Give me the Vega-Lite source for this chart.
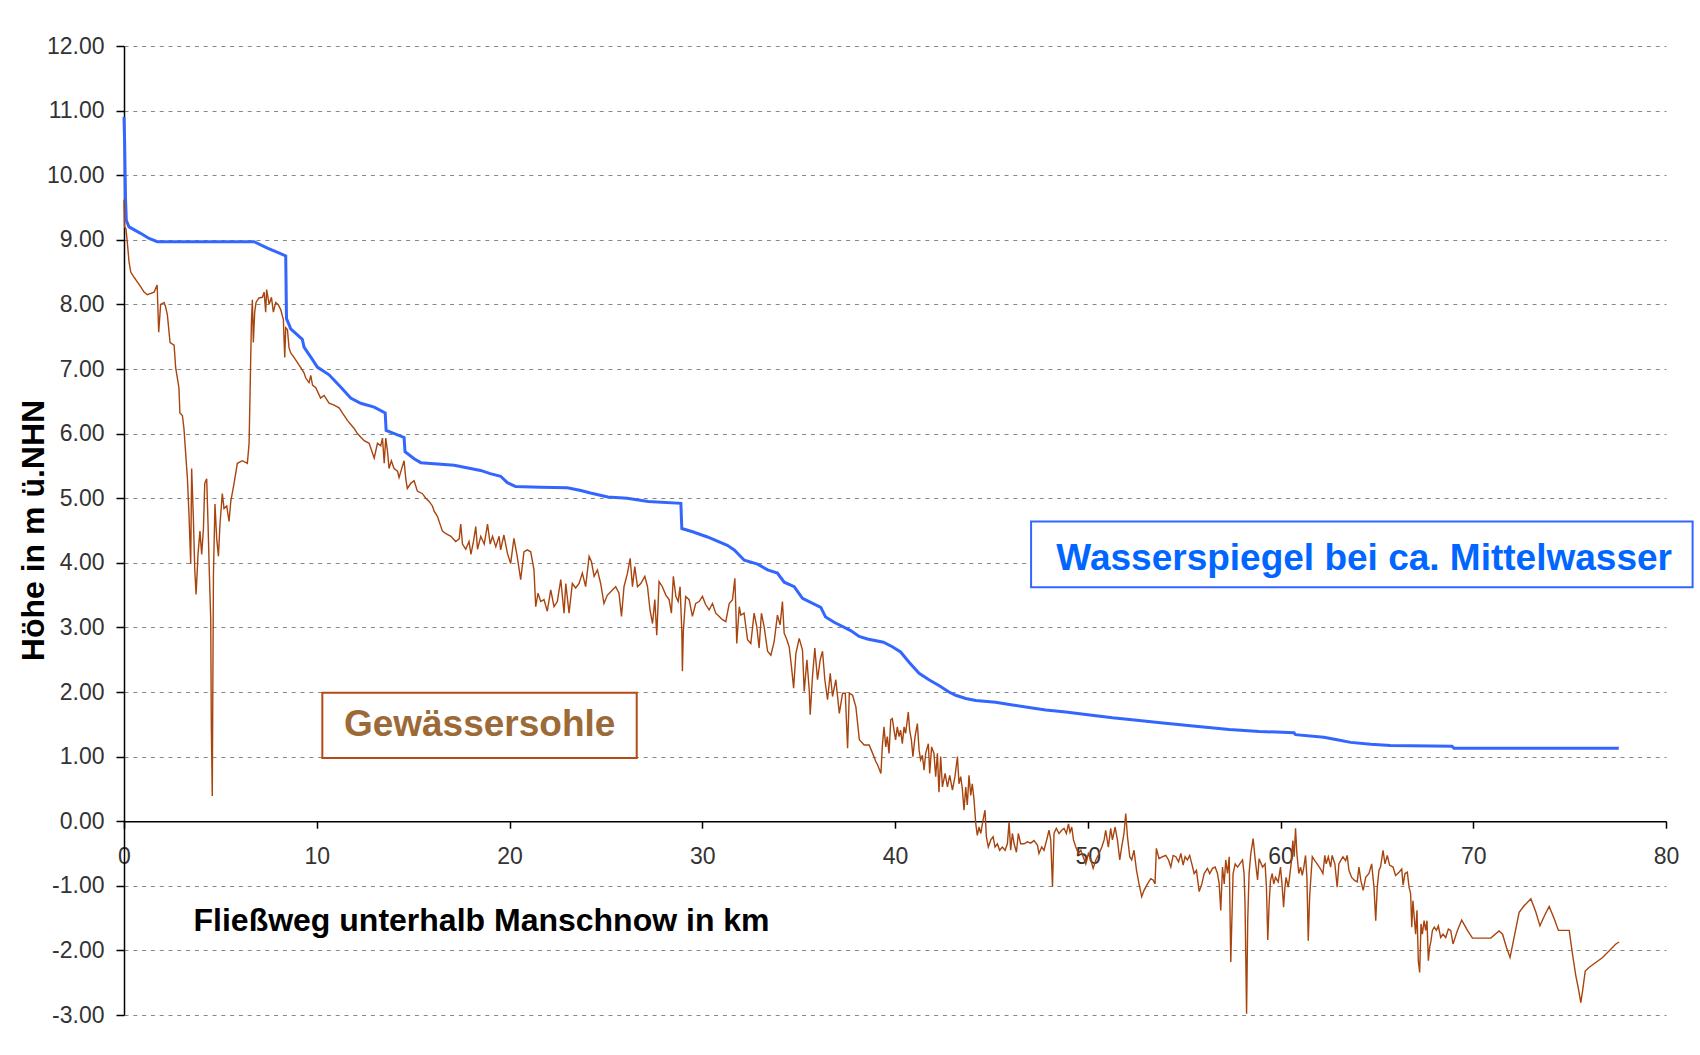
{
  "$schema": "https://vega.github.io/schema/vega-lite/v6.json",
  "width": 1542,
  "height": 969,
  "autosize": {"type": "none"},
  "padding": {"left": 124, "top": 46, "right": 34, "bottom": 40},
  "background": "white",
  "config": {
    "view": {"stroke": null},
    "font": "Liberation Sans",
    "axis": {"labelFont": "Liberation Sans", "titleFont": "Liberation Sans"}
  },
  "datasets": {
    "wasser": [
      {"km":0,"h":10.9},{"km":0.03,"h":10.55},{"km":0.08,"h":9.62},{"km":0.12,"h":9.3},{"km":0.26,"h":9.2},{"km":0.86,"h":9.1},{"km":1.3,"h":9.02},{"km":1.73,"h":8.97},{"km":6.75,"h":8.97},{"km":7.44,"h":8.87},{"km":8.0,"h":8.8},{"km":8.39,"h":8.75},{"km":8.43,"h":7.78},{"km":8.6,"h":7.66},{"km":8.65,"h":7.62},{"km":9.25,"h":7.46},{"km":9.34,"h":7.34},{"km":9.77,"h":7.15},{"km":10.03,"h":7.03},{"km":10.64,"h":6.91},{"km":11.24,"h":6.72},{"km":11.76,"h":6.55},{"km":12.28,"h":6.47},{"km":12.98,"h":6.41},{"km":13.55,"h":6.32},{"km":13.6,"h":6.05},{"km":14.53,"h":5.94},{"km":14.58,"h":5.72},{"km":15.05,"h":5.61},{"km":15.4,"h":5.55},{"km":17.13,"h":5.51},{"km":17.65,"h":5.48},{"km":18.5,"h":5.43},{"km":19.0,"h":5.38},{"km":19.54,"h":5.34},{"km":19.89,"h":5.24},{"km":20.32,"h":5.18},{"km":21.6,"h":5.17},{"km":23.0,"h":5.16},{"km":23.7,"h":5.12},{"km":24.2,"h":5.08},{"km":25.1,"h":5.02},{"km":26.1,"h":5.0},{"km":27.2,"h":4.95},{"km":28.89,"h":4.92},{"km":28.94,"h":4.53},{"km":29.5,"h":4.48},{"km":30.27,"h":4.4},{"km":31.3,"h":4.27},{"km":31.66,"h":4.2},{"km":32.18,"h":4.04},{"km":32.87,"h":3.98},{"km":33.39,"h":3.89},{"km":33.9,"h":3.84},{"km":34.25,"h":3.7},{"km":34.77,"h":3.63},{"km":35.2,"h":3.45},{"km":36.15,"h":3.31},{"km":36.4,"h":3.16},{"km":36.84,"h":3.08},{"km":37.7,"h":2.95},{"km":38.14,"h":2.86},{"km":38.57,"h":2.82},{"km":39.4,"h":2.77},{"km":39.86,"h":2.7},{"km":40.29,"h":2.62},{"km":40.73,"h":2.46},{"km":41.25,"h":2.29},{"km":41.76,"h":2.19},{"km":42.28,"h":2.1},{"km":42.8,"h":2.0},{"km":43.15,"h":1.95},{"km":43.67,"h":1.9},{"km":44.19,"h":1.87},{"km":45.22,"h":1.84},{"km":46.09,"h":1.8},{"km":46.95,"h":1.76},{"km":47.82,"h":1.72},{"km":48.86,"h":1.69},{"km":49.9,"h":1.65},{"km":51.28,"h":1.6},{"km":52.3,"h":1.57},{"km":53.9,"h":1.52},{"km":55.6,"h":1.47},{"km":57.34,"h":1.42},{"km":58.9,"h":1.39},{"km":60.7,"h":1.37},{"km":60.78,"h":1.34},{"km":62.25,"h":1.3},{"km":62.94,"h":1.26},{"km":63.64,"h":1.22},{"km":64.68,"h":1.19},{"km":65.7,"h":1.17},{"km":68.9,"h":1.16},{"km":69.0,"h":1.13},{"km":77.55,"h":1.13}
    ],
    "sohle": [
      {"km":0.0,"h":9.62},{"km":0.03,"h":9.2},{"km":0.1,"h":9.17},{"km":0.17,"h":8.97},{"km":0.26,"h":8.66},{"km":0.35,"h":8.5},{"km":0.52,"h":8.42},{"km":0.69,"h":8.35},{"km":0.87,"h":8.27},{"km":1.04,"h":8.19},{"km":1.21,"h":8.15},{"km":1.56,"h":8.19},{"km":1.72,"h":8.3},{"km":1.8,"h":7.57},{"km":1.9,"h":8.0},{"km":2.08,"h":8.03},{"km":2.16,"h":7.96},{"km":2.25,"h":7.84},{"km":2.39,"h":7.41},{"km":2.6,"h":7.37},{"km":2.68,"h":7.02},{"km":2.85,"h":6.71},{"km":2.9,"h":6.32},{"km":3.03,"h":6.28},{"km":3.11,"h":6.08},{"km":3.2,"h":5.69},{"km":3.29,"h":5.3},{"km":3.37,"h":4.76},{"km":3.46,"h":3.98},{"km":3.51,"h":5.46},{"km":3.6,"h":4.68},{"km":3.67,"h":3.9},{"km":3.74,"h":3.51},{"km":3.84,"h":4.13},{"km":3.94,"h":4.49},{"km":4.03,"h":4.13},{"km":4.12,"h":4.52},{"km":4.19,"h":5.23},{"km":4.29,"h":5.3},{"km":4.36,"h":4.6},{"km":4.43,"h":3.82},{"km":4.5,"h":3.12},{"km":4.53,"h":1.48},{"km":4.58,"h":0.39},{"km":4.64,"h":3.82},{"km":4.72,"h":4.91},{"km":4.81,"h":4.37},{"km":4.9,"h":4.1},{"km":4.98,"h":4.6},{"km":5.1,"h":5.07},{"km":5.19,"h":4.84},{"km":5.33,"h":4.88},{"km":5.45,"h":4.64},{"km":5.54,"h":4.95},{"km":5.71,"h":5.23},{"km":5.88,"h":5.54},{"km":6.14,"h":5.58},{"km":6.4,"h":5.54},{"km":6.49,"h":5.85},{"km":6.54,"h":6.63},{"km":6.61,"h":7.72},{"km":6.66,"h":8.07},{"km":6.71,"h":7.41},{"km":6.78,"h":7.88},{"km":6.85,"h":8.03},{"km":7.0,"h":8.1},{"km":7.18,"h":8.11},{"km":7.27,"h":8.19},{"km":7.35,"h":7.88},{"km":7.4,"h":8.23},{"km":7.53,"h":8.0},{"km":7.65,"h":8.11},{"km":7.75,"h":7.88},{"km":7.87,"h":8.03},{"km":7.99,"h":8.0},{"km":8.13,"h":7.92},{"km":8.27,"h":7.76},{"km":8.3,"h":7.49},{"km":8.34,"h":7.18},{"km":8.39,"h":7.64},{"km":8.48,"h":7.61},{"km":8.56,"h":7.33},{"km":8.65,"h":7.25},{"km":8.82,"h":7.18},{"km":9.0,"h":7.1},{"km":9.17,"h":7.02},{"km":9.34,"h":6.94},{"km":9.43,"h":6.86},{"km":9.6,"h":6.79},{"km":9.69,"h":6.9},{"km":9.78,"h":6.75},{"km":9.95,"h":6.71},{"km":10.2,"h":6.55},{"km":10.38,"h":6.59},{"km":10.64,"h":6.47},{"km":10.9,"h":6.44},{"km":11.16,"h":6.4},{"km":11.33,"h":6.32},{"km":11.6,"h":6.2},{"km":11.94,"h":6.08},{"km":12.11,"h":6.0},{"km":12.46,"h":5.89},{"km":12.72,"h":5.85},{"km":12.98,"h":5.62},{"km":13.15,"h":5.85},{"km":13.32,"h":5.81},{"km":13.41,"h":5.93},{"km":13.5,"h":5.54},{"km":13.58,"h":5.93},{"km":13.67,"h":5.73},{"km":13.75,"h":5.46},{"km":13.87,"h":5.58},{"km":14.01,"h":5.46},{"km":14.19,"h":5.42},{"km":14.27,"h":5.32},{"km":14.45,"h":5.5},{"km":14.53,"h":5.58},{"km":14.62,"h":5.3},{"km":14.7,"h":5.15},{"km":14.88,"h":5.23},{"km":15.05,"h":5.27},{"km":15.22,"h":5.11},{"km":15.48,"h":5.07},{"km":15.66,"h":5.0},{"km":15.83,"h":4.95},{"km":16.0,"h":4.88},{"km":16.09,"h":4.8},{"km":16.26,"h":4.72},{"km":16.44,"h":4.56},{"km":16.52,"h":4.49},{"km":16.7,"h":4.45},{"km":16.96,"h":4.41},{"km":17.21,"h":4.33},{"km":17.39,"h":4.37},{"km":17.47,"h":4.6},{"km":17.56,"h":4.29},{"km":17.73,"h":4.21},{"km":17.9,"h":4.33},{"km":18.0,"h":4.13},{"km":18.13,"h":4.33},{"km":18.25,"h":4.56},{"km":18.34,"h":4.21},{"km":18.51,"h":4.41},{"km":18.69,"h":4.29},{"km":18.86,"h":4.6},{"km":19.0,"h":4.29},{"km":19.12,"h":4.41},{"km":19.29,"h":4.25},{"km":19.46,"h":4.41},{"km":19.54,"h":4.2},{"km":19.71,"h":4.43},{"km":19.89,"h":4.15},{"km":20.06,"h":3.99},{"km":20.23,"h":4.38},{"km":20.4,"h":4.1},{"km":20.58,"h":3.74},{"km":20.75,"h":4.17},{"km":20.92,"h":4.2},{"km":21.1,"h":4.17},{"km":21.27,"h":3.89},{"km":21.36,"h":3.32},{"km":21.48,"h":3.53},{"km":21.62,"h":3.4},{"km":21.79,"h":3.43},{"km":21.96,"h":3.25},{"km":22.14,"h":3.58},{"km":22.31,"h":3.32},{"km":22.48,"h":3.4},{"km":22.66,"h":3.74},{"km":22.83,"h":3.22},{"km":22.92,"h":3.68},{"km":23.09,"h":3.22},{"km":23.26,"h":3.68},{"km":23.43,"h":3.61},{"km":23.61,"h":3.68},{"km":23.78,"h":3.84},{"km":23.95,"h":3.63},{"km":24.13,"h":4.1},{"km":24.25,"h":4.02},{"km":24.39,"h":3.79},{"km":24.56,"h":3.89},{"km":24.73,"h":3.68},{"km":24.9,"h":3.37},{"km":25.08,"h":3.5},{"km":25.34,"h":3.58},{"km":25.51,"h":3.63},{"km":25.68,"h":3.53},{"km":25.81,"h":3.17},{"km":25.94,"h":3.63},{"km":26.12,"h":3.84},{"km":26.26,"h":4.07},{"km":26.38,"h":3.63},{"km":26.5,"h":3.94},{"km":26.64,"h":3.63},{"km":26.81,"h":3.68},{"km":27.02,"h":3.79},{"km":27.16,"h":3.63},{"km":27.29,"h":3.27},{"km":27.42,"h":3.06},{"km":27.54,"h":3.43},{"km":27.64,"h":2.88},{"km":27.76,"h":3.71},{"km":27.93,"h":3.63},{"km":28.11,"h":3.5},{"km":28.28,"h":3.43},{"km":28.4,"h":3.22},{"km":28.5,"h":3.79},{"km":28.63,"h":3.48},{"km":28.75,"h":3.4},{"km":28.85,"h":3.63},{"km":28.94,"h":2.94},{"km":28.97,"h":2.32},{"km":29.02,"h":2.94},{"km":29.14,"h":3.48},{"km":29.32,"h":3.43},{"km":29.49,"h":3.17},{"km":29.66,"h":3.37},{"km":29.84,"h":3.4},{"km":30.01,"h":3.48},{"km":30.18,"h":3.35},{"km":30.36,"h":3.27},{"km":30.53,"h":3.37},{"km":30.7,"h":3.22},{"km":30.88,"h":3.17},{"km":31.05,"h":3.12},{"km":31.22,"h":3.09},{"km":31.4,"h":3.37},{"km":31.57,"h":3.43},{"km":31.69,"h":3.76},{"km":31.74,"h":3.32},{"km":31.79,"h":2.75},{"km":31.92,"h":3.32},{"km":32.0,"h":3.19},{"km":32.17,"h":3.22},{"km":32.35,"h":2.81},{"km":32.52,"h":2.75},{"km":32.69,"h":3.22},{"km":32.83,"h":3.01},{"km":32.95,"h":2.68},{"km":33.07,"h":3.22},{"km":33.21,"h":3.01},{"km":33.39,"h":2.63},{"km":33.56,"h":2.57},{"km":33.73,"h":2.78},{"km":33.9,"h":3.19},{"km":34.04,"h":3.04},{"km":34.16,"h":3.4},{"km":34.25,"h":2.91},{"km":34.39,"h":2.81},{"km":34.51,"h":2.7},{"km":34.63,"h":2.39},{"km":34.74,"h":2.06},{"km":34.86,"h":2.6},{"km":35.03,"h":2.83},{"km":35.2,"h":2.65},{"km":35.29,"h":2.01},{"km":35.43,"h":2.5},{"km":35.55,"h":2.03},{"km":35.6,"h":1.65},{"km":35.72,"h":2.24},{"km":35.84,"h":2.68},{"km":35.98,"h":2.19},{"km":36.12,"h":2.5},{"km":36.24,"h":2.63},{"km":36.36,"h":2.19},{"km":36.5,"h":1.88},{"km":36.64,"h":2.29},{"km":36.76,"h":1.93},{"km":36.93,"h":2.19},{"km":37.11,"h":1.67},{"km":37.28,"h":1.98},{"km":37.42,"h":1.98},{"km":37.54,"h":1.13},{"km":37.63,"h":1.98},{"km":37.8,"h":1.95},{"km":37.97,"h":1.77},{"km":38.15,"h":1.26},{"km":38.4,"h":1.18},{"km":38.66,"h":1.18},{"km":38.84,"h":1.05},{"km":39.01,"h":0.92},{"km":39.1,"h":0.87},{"km":39.27,"h":0.74},{"km":39.34,"h":1.15},{"km":39.43,"h":1.46},{"km":39.52,"h":1.15},{"km":39.6,"h":1.31},{"km":39.69,"h":1.05},{"km":39.78,"h":1.57},{"km":39.86,"h":1.59},{"km":39.95,"h":1.41},{"km":40.03,"h":1.26},{"km":40.12,"h":1.46},{"km":40.21,"h":1.31},{"km":40.29,"h":1.41},{"km":40.38,"h":1.2},{"km":40.47,"h":1.46},{"km":40.55,"h":1.36},{"km":40.64,"h":1.57},{"km":40.69,"h":1.69},{"km":40.76,"h":1.41},{"km":40.85,"h":1.26},{"km":40.93,"h":1.0},{"km":41.04,"h":1.31},{"km":41.16,"h":1.51},{"km":41.25,"h":1.1},{"km":41.33,"h":0.95},{"km":41.42,"h":1.02},{"km":41.51,"h":0.79},{"km":41.59,"h":1.05},{"km":41.73,"h":1.2},{"km":41.8,"h":0.74},{"km":41.9,"h":1.15},{"km":42.02,"h":1.05},{"km":42.11,"h":0.69},{"km":42.2,"h":1.05},{"km":42.28,"h":0.45},{"km":42.37,"h":1.0},{"km":42.46,"h":0.53},{"km":42.6,"h":0.74},{"km":42.72,"h":0.53},{"km":42.84,"h":0.71},{"km":42.98,"h":0.48},{"km":43.11,"h":0.69},{"km":43.24,"h":1.0},{"km":43.32,"h":0.58},{"km":43.41,"h":0.69},{"km":43.49,"h":0.51},{"km":43.58,"h":0.17},{"km":43.67,"h":0.53},{"km":43.75,"h":0.25},{"km":43.84,"h":0.71},{"km":43.93,"h":0.4},{"km":44.01,"h":0.58},{"km":44.1,"h":0.33},{"km":44.19,"h":-0.04},{"km":44.27,"h":-0.22},{"km":44.36,"h":-0.09},{"km":44.45,"h":-0.19},{"km":44.57,"h":0.02},{"km":44.67,"h":0.17},{"km":44.74,"h":-0.24},{"km":44.84,"h":-0.4},{"km":44.97,"h":-0.29},{"km":45.09,"h":-0.24},{"km":45.19,"h":-0.4},{"km":45.31,"h":-0.35},{"km":45.43,"h":-0.45},{"km":45.57,"h":-0.4},{"km":45.71,"h":-0.45},{"km":45.83,"h":-0.35},{"km":45.92,"h":-0.01},{"km":46.0,"h":-0.45},{"km":46.09,"h":-0.19},{"km":46.18,"h":-0.35},{"km":46.3,"h":-0.48},{"km":46.4,"h":-0.19},{"km":46.52,"h":-0.35},{"km":46.7,"h":-0.35},{"km":46.87,"h":-0.32},{"km":47.04,"h":-0.34},{"km":47.21,"h":-0.3},{"km":47.39,"h":-0.37},{"km":47.47,"h":-0.5},{"km":47.61,"h":-0.4},{"km":47.73,"h":-0.45},{"km":47.91,"h":-0.24},{"km":47.99,"h":-0.14},{"km":48.08,"h":-0.29},{"km":48.17,"h":-1.02},{"km":48.25,"h":-0.19},{"km":48.37,"h":-0.11},{"km":48.51,"h":-0.19},{"km":48.65,"h":-0.14},{"km":48.77,"h":-0.11},{"km":48.89,"h":-0.19},{"km":49.0,"h":-0.04},{"km":49.08,"h":-0.17},{"km":49.17,"h":-0.09},{"km":49.26,"h":-0.29},{"km":49.38,"h":-0.4},{"km":49.52,"h":-0.5},{"km":49.64,"h":-0.45},{"km":49.76,"h":-0.55},{"km":49.9,"h":-0.66},{"km":50.03,"h":-0.5},{"km":50.16,"h":-0.6},{"km":50.28,"h":-0.73},{"km":50.42,"h":-0.6},{"km":50.59,"h":-0.5},{"km":50.73,"h":-0.4},{"km":50.85,"h":-0.29},{"km":50.93,"h":-0.14},{"km":51.07,"h":-0.4},{"km":51.19,"h":-0.11},{"km":51.28,"h":-0.29},{"km":51.42,"h":-0.09},{"km":51.54,"h":-0.29},{"km":51.66,"h":-0.6},{"km":51.76,"h":-0.4},{"km":51.88,"h":-0.19},{"km":51.97,"h":0.12},{"km":52.06,"h":-0.24},{"km":52.18,"h":-0.55},{"km":52.28,"h":-0.6},{"km":52.4,"h":-0.45},{"km":52.53,"h":-0.76},{"km":52.66,"h":-0.97},{"km":52.8,"h":-1.17},{"km":52.92,"h":-1.07},{"km":53.1,"h":-0.97},{"km":53.27,"h":-0.89},{"km":53.39,"h":-0.91},{"km":53.49,"h":-0.97},{"km":53.56,"h":-0.42},{"km":53.7,"h":-0.58},{"km":53.88,"h":-0.55},{"km":54.05,"h":-0.53},{"km":54.19,"h":-0.6},{"km":54.31,"h":-0.71},{"km":54.43,"h":-0.53},{"km":54.57,"h":-0.55},{"km":54.71,"h":-0.63},{"km":54.83,"h":-0.5},{"km":54.95,"h":-0.68},{"km":55.05,"h":-0.55},{"km":55.17,"h":-0.6},{"km":55.29,"h":-0.53},{"km":55.4,"h":-0.66},{"km":55.52,"h":-0.81},{"km":55.64,"h":-0.76},{"km":55.78,"h":-1.09},{"km":55.92,"h":-0.97},{"km":56.04,"h":-0.81},{"km":56.21,"h":-0.73},{"km":56.33,"h":-0.81},{"km":56.47,"h":-0.73},{"km":56.61,"h":-0.71},{"km":56.73,"h":-0.81},{"km":56.82,"h":-0.97},{"km":56.9,"h":-1.38},{"km":56.99,"h":-0.71},{"km":57.08,"h":-0.97},{"km":57.16,"h":-0.6},{"km":57.25,"h":-0.81},{"km":57.34,"h":-0.55},{"km":57.42,"h":-2.18},{"km":57.54,"h":-0.81},{"km":57.65,"h":-0.66},{"km":57.77,"h":-0.71},{"km":57.89,"h":-0.66},{"km":58.03,"h":-0.6},{"km":58.11,"h":-0.81},{"km":58.16,"h":-1.28},{"km":58.24,"h":-2.98},{"km":58.3,"h":-1.53},{"km":58.37,"h":-0.81},{"km":58.46,"h":-0.5},{"km":58.58,"h":-0.27},{"km":58.69,"h":-0.6},{"km":58.81,"h":-0.91},{"km":58.89,"h":-0.58},{"km":59.07,"h":-0.71},{"km":59.2,"h":-0.66},{"km":59.27,"h":-1.02},{"km":59.34,"h":-1.84},{"km":59.41,"h":-1.28},{"km":59.48,"h":-0.92},{"km":59.57,"h":-0.81},{"km":59.65,"h":-0.97},{"km":59.74,"h":-0.87},{"km":59.88,"h":-0.94},{"km":60.0,"h":-0.71},{"km":60.09,"h":-1.02},{"km":60.16,"h":-1.33},{"km":60.23,"h":-1.02},{"km":60.29,"h":-0.87},{"km":60.4,"h":-1.02},{"km":60.47,"h":-0.87},{"km":60.57,"h":-0.61},{"km":60.64,"h":-0.3},{"km":60.71,"h":-0.55},{"km":60.78,"h":-0.11},{"km":60.85,"h":-0.5},{"km":60.95,"h":-0.81},{"km":61.04,"h":-0.71},{"km":61.13,"h":-0.84},{"km":61.21,"h":-0.71},{"km":61.3,"h":-0.53},{"km":61.37,"h":-0.87},{"km":61.44,"h":-1.85},{"km":61.51,"h":-1.18},{"km":61.59,"h":-0.81},{"km":61.65,"h":-0.55},{"km":61.78,"h":-0.61},{"km":61.9,"h":-0.66},{"km":62.08,"h":-0.74},{"km":62.2,"h":-0.81},{"km":62.3,"h":-0.53},{"km":62.37,"h":-0.66},{"km":62.48,"h":-0.55},{"km":62.6,"h":-0.71},{"km":62.68,"h":-0.53},{"km":62.82,"h":-0.66},{"km":62.94,"h":-1.02},{"km":63.03,"h":-0.66},{"km":63.12,"h":-0.61},{"km":63.24,"h":-0.55},{"km":63.38,"h":-0.61},{"km":63.46,"h":-0.53},{"km":63.55,"h":-0.76},{"km":63.69,"h":-0.87},{"km":63.86,"h":-0.92},{"km":63.98,"h":-0.94},{"km":64.07,"h":-0.71},{"km":64.17,"h":-0.92},{"km":64.29,"h":-1.07},{"km":64.42,"h":-0.87},{"km":64.59,"h":-0.81},{"km":64.73,"h":-0.66},{"km":64.85,"h":-1.02},{"km":64.94,"h":-1.54},{"km":65.02,"h":-1.02},{"km":65.11,"h":-0.76},{"km":65.19,"h":-0.71},{"km":65.32,"h":-0.45},{"km":65.42,"h":-0.66},{"km":65.54,"h":-0.53},{"km":65.66,"h":-0.68},{"km":65.84,"h":-0.71},{"km":65.97,"h":-0.84},{"km":66.15,"h":-0.79},{"km":66.29,"h":-0.74},{"km":66.36,"h":-0.99},{"km":66.46,"h":-0.81},{"km":66.58,"h":-0.79},{"km":66.67,"h":-1.02},{"km":66.75,"h":-1.12},{"km":66.81,"h":-1.64},{"km":66.87,"h":-1.23},{"km":66.94,"h":-1.49},{"km":67.01,"h":-1.75},{"km":67.08,"h":-1.38},{"km":67.15,"h":-2.16},{"km":67.22,"h":-2.34},{"km":67.29,"h":-1.59},{"km":67.36,"h":-1.75},{"km":67.45,"h":-1.54},{"km":67.53,"h":-1.69},{"km":67.6,"h":-1.54},{"km":67.67,"h":-2.16},{"km":67.74,"h":-1.95},{"km":67.81,"h":-1.85},{"km":67.88,"h":-1.69},{"km":67.98,"h":-1.64},{"km":68.09,"h":-1.69},{"km":68.19,"h":-1.62},{"km":68.31,"h":-1.8},{"km":68.43,"h":-1.75},{"km":68.57,"h":-1.8},{"km":68.71,"h":-1.67},{"km":68.83,"h":-1.69},{"km":68.95,"h":-1.9},{"km":69.18,"h":-1.69},{"km":69.4,"h":-1.53},{"km":69.7,"h":-1.69},{"km":69.96,"h":-1.81},{"km":70.91,"h":-1.81},{"km":71.34,"h":-1.7},{"km":71.52,"h":-1.75},{"km":71.72,"h":-1.95},{"km":71.91,"h":-2.11},{"km":72.12,"h":-1.8},{"km":72.38,"h":-1.41},{"km":72.64,"h":-1.31},{"km":72.99,"h":-1.2},{"km":73.25,"h":-1.41},{"km":73.46,"h":-1.62},{"km":73.73,"h":-1.44},{"km":73.94,"h":-1.32},{"km":74.2,"h":-1.51},{"km":74.42,"h":-1.69},{"km":74.98,"h":-1.69},{"km":75.15,"h":-2.06},{"km":75.32,"h":-2.39},{"km":75.46,"h":-2.6},{"km":75.58,"h":-2.81},{"km":75.67,"h":-2.63},{"km":75.81,"h":-2.32},{"km":76.02,"h":-2.26},{"km":76.71,"h":-2.11},{"km":77.4,"h":-1.9},{"km":77.57,"h":-1.87}
    ]
  },
  "encoding": {
    "x": {
      "field": "km", "type": "quantitative",
      "scale": {"domain": [0, 80], "nice": false, "zero": false},
      "axis": {
        "values": [0, 10, 20, 30, 40, 50, 60, 70, 80],
        "format": "d",
        "offset": -193.8,
        "grid": false,
        "labelFlush": false,
        "labelOverlap": false,
        "domainColor": "#000000", "domainWidth": 1.5,
        "tickColor": "#000000", "tickWidth": 1.5, "tickSize": 7,
        "labelFontSize": 23, "labelColor": "#333333", "labelPadding": 17,
        "title": "Fließweg unterhalb Manschnow in km",
        "titleFontSize": 32, "titleFontWeight": "bold", "titleColor": "#000000",
        "titleX": 69, "titleY": 109, "titleAlign": "left", "titleBaseline": "alphabetic"
      }
    },
    "y": {
      "field": "h", "type": "quantitative",
      "scale": {"domain": [-3, 12], "nice": false, "zero": false},
      "axis": {
        "values": [-3, -2, -1, 0, 1, 2, 3, 4, 5, 6, 7, 8, 9, 10, 11, 12],
        "format": ".2f",
        "labelExpr": "replace(datum.label, '\u2212', '-')",
        "labelFlush": false,
        "labelOverlap": false,
        "grid": true, "gridColor": "#888888", "gridDash": [4, 4.8], "gridWidth": 1.2,
        "domainColor": "#000000", "domainWidth": 1.5,
        "tickColor": "#000000", "tickWidth": 1.5, "tickSize": 8,
        "labelFontSize": 23, "labelColor": "#333333", "labelPadding": 12,
        "title": "Höhe in m ü.NHN",
        "titleFontSize": 32, "titleFontWeight": "bold", "titleColor": "#000000",
        "titleAngle": -90, "titleX": -81, "titleY": 484, "titleAlign": "center", "titleBaseline": "alphabetic"
      }
    }
  },
  "layer": [
    {
      "data": {"name": "wasser"},
      "mark": {"type": "line", "color": "#3366ff", "strokeWidth": 3, "interpolate": "linear"}
    },
    {
      "data": {"name": "sohle"},
      "mark": {"type": "line", "color": "#a8440e", "strokeWidth": 1.4, "interpolate": "linear"}
    },
    {
      "data": {"values": [{"km1": 10.29, "km2": 26.6, "h1": 0.98, "h2": 1.99}]},
      "mark": {"type": "rect", "fill": "#ffffff", "stroke": "#b44a14", "strokeWidth": 2},
      "encoding": {
        "x": {"field": "km1", "type": "quantitative"},
        "x2": {"field": "km2"},
        "y": {"field": "h1", "type": "quantitative"},
        "y2": {"field": "h2"}
      }
    },
    {
      "data": {"values": [{"label": "Gewässersohle", "km": 18.45, "h": 1.32}]},
      "mark": {"type": "text", "font": "Liberation Sans", "fontSize": 37, "fontWeight": "bold", "color": "#9c6a36", "align": "center", "baseline": "alphabetic"},
      "encoding": {
        "text": {"field": "label"}
      }
    },
    {
      "data": {"values": [{"km1": 47.06, "km2": 81.38, "h1": 3.62, "h2": 4.64}]},
      "mark": {"type": "rect", "fill": "#ffffff", "stroke": "#3366ff", "strokeWidth": 2},
      "encoding": {
        "x": {"field": "km1", "type": "quantitative"},
        "x2": {"field": "km2"},
        "y": {"field": "h1", "type": "quantitative"},
        "y2": {"field": "h2"}
      }
    },
    {
      "data": {"values": [{"label": "Wasserspiegel bei ca. Mittelwasser", "km": 64.34, "h": 3.89}]},
      "mark": {"type": "text", "font": "Liberation Sans", "fontSize": 37, "fontWeight": "bold", "color": "#0066ff", "align": "center", "baseline": "alphabetic"},
      "encoding": {
        "text": {"field": "label"}
      }
    }
  ]
}
